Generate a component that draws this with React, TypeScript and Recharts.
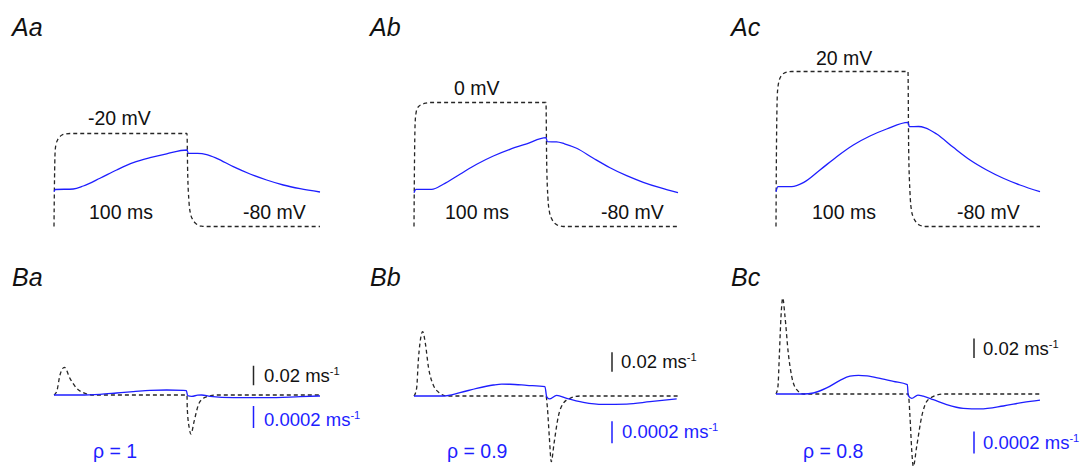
import React from 'react';
import { LineChart, Line, XAxis, YAxis, ReferenceLine } from 'recharts';

// ---------- Data (time in ms) ----------
const stepT = [0, 0.3, 0.7, 1, 1.5, 2.5, 4, 6, 9, 12, 100, 100.5, 101.5, 102.7, 104.3, 106.5, 108.5, 111, 113, 200];
const stepAa = [-80, -55, -35, -30, -27, -24.5, -22.5, -21, -20.3, -20, -20, -45, -64, -72, -75.5, -78, -79.2, -79.8, -80, -80];
const stepAb = [-80, -45, -18, -11, -7, -4, -2.2, -1.2, -0.4, 0, 0, -38, -62, -71, -75, -77.8, -79, -79.7, -80, -80];
const stepAc = [-80, -35, -5, 5, 10, 14.5, 17.3, 18.9, 19.8, 20, 20, -30, -58, -70, -74.5, -77.5, -79, -79.7, -80, -80];

const gateAaT = [0, 1, 14.5, 22, 34.6, 47.1, 59.6, 72.2, 84.7, 100, 101, 108, 114.8, 122.3, 134.8, 147.4, 159.9, 172.4, 185, 200];
const gateAa = [0.041, 0.069, 0.075, 0.1125, 0.209, 0.3125, 0.404, 0.466, 0.515, 0.5625, 0.52, 0.52, 0.505, 0.459, 0.354, 0.2625, 0.1875, 0.125, 0.079, 0.0375];
const gateAbT = [0, 1.5, 13.4, 22.2, 34.8, 47.5, 60.1, 72.7, 85.4, 100, 101, 108, 114, 123.2, 135.9, 148.5, 161.1, 173.7, 186.4, 200];
const gateAb = [0.029, 0.071, 0.071, 0.134, 0.259, 0.384, 0.4875, 0.571, 0.64, 0.716, 0.666, 0.664, 0.64, 0.584, 0.459, 0.341, 0.241, 0.159, 0.091, 0.029];
const gateAcT = [0, 1.5, 11.9, 20.7, 33.3, 46, 58.6, 71.2, 83.8, 100, 101, 108, 113, 121.7, 134.3, 147, 159.6, 172.2, 184.8, 200];
const gateAc = [0.041, 0.104, 0.104, 0.154, 0.3125, 0.479, 0.625, 0.7375, 0.825, 0.909, 0.854, 0.856, 0.84, 0.7625, 0.596, 0.4375, 0.3125, 0.209, 0.125, 0.041];

const rateBaT = [0, 2, 4.5, 7.8, 12, 17, 22, 29.5, 100, 100.2, 101.7, 103, 105.3, 108.5, 112.3, 117.3, 122.3, 200];
const rateBa = [0, 0.0034, 0.0205, 0.0284, 0.0171, 0.0069, 0.0024, 0, 0, -0.0136, -0.0341, -0.04, -0.0274, -0.0103, -0.0034, -0.001, 0, 0];
const rateBbT = [0, 2, 3.3, 4.5, 6.6, 8.6, 10.9, 14.6, 19.7, 24.7, 100, 101, 102.5, 104, 106.1, 109.3, 113.1, 118.2, 125.8, 200];
const rateBb = [0, 0.008, 0.0369, 0.054, 0.066, 0.054, 0.03, 0.0113, 0.0028, 0, 0, -0.011, -0.0417, -0.0674, -0.0485, -0.0212, -0.0075, -0.0024, 0, 0];
const rateBcT = [0, 1.5, 2.5, 3.8, 5.1, 6.8, 9.3, 11.9, 15.7, 20.7, 100.2, 101.5, 102.8, 104, 106.6, 110.4, 114.2, 119.2, 126.8, 200];
const rateBc = [0, 0.008, 0.0386, 0.0796, 0.0985, 0.0796, 0.042, 0.018, 0.0044, 0, 0, -0.023, -0.0571, -0.0743, -0.0537, -0.023, -0.0076, -0.0025, 0, 0];

const diffBaT = [0, 20, 34.6, 47.1, 59.6, 72.2, 84.7, 97.2, 99.5, 100.5, 103.5, 108, 111, 117.3, 134.8, 160, 185, 200];
const diffBa = [0, 0, 0.0000064, 0.000018, 0.00003, 0.0000427, 0.0000455, 0.0000427, 0.00004, -0.000006, -0.000012, -0.000002, 0, -0.000012, -0.000024, -0.000024, -0.000015, -0.000009];
const diffBbT = [0, 22.2, 34.8, 47.5, 60.1, 66.5, 72.7, 85.4, 99.2, 100.5, 102.5, 108.1, 115.7, 128.3, 143.4, 161.1, 178.8, 199];
const diffBb = [0, 0, 0.00003, 0.00007, 0.0001, 0.000108, 0.000107, 0.000097, 0.000085, -0.000006, -0.000027, 0.000006, -0.000021, -0.000057, -0.000076, -0.000073, -0.000052, -0.000027];
const diffBcT = [0, 20.7, 28.3, 38.4, 48.5, 56, 62.5, 69, 78.8, 88.9, 99.5, 100.2, 102.8, 107.5, 111.6, 119.2, 129.3, 141.9, 154.5, 172.2, 187.3, 200];
const diffBc = [0, 0, 0.000009, 0.000055, 0.000124, 0.000162, 0.00017, 0.000164, 0.000142, 0.000115, 0.000085, -0.000015, -0.00004, -0.00001, -0.00002, -0.000052, -0.000097, -0.000131, -0.000136, -0.000109, -0.000076, -0.000055];

// scale bars (drawn at t = barT)
const barT = 150;
const blackBars = [[0.01, 0.03], [0.025, 0.045], [0.037, 0.057]];
const blueBars = [[-0.0003, -0.0001], [-0.00043, -0.00023], [-0.00054, -0.00034]];

const stepLabels = ['-20 mV', '0 mV', '20 mV'];
const rhoLabels = ['ρ = 1', 'ρ = 0.9', 'ρ = 0.8'];
const topLetters = ['Aa', 'Ab', 'Ac'];
const bottomLetters = ['Ba', 'Bb', 'Bc'];

const pts = (ts: number[], vs: number[]) => ts.map((t, i) => ({ t, v: vs[i] }));

const BLUE = '#1e1eff';
const DARK = '#262626';
const M = 5;

type PanelProps = {
  left: number; top: number; width: number; height: number;
  kDomain: number[]; bDomain: number[];
  black: { t: number; v: number }[]; blue: { t: number; v: number }[];
  kBar?: number[]; bBar?: number[];
};

function Panel({ left, top, width, height, kDomain, bDomain, black, blue, kBar, bBar }: PanelProps) {
  return (
    <div style={{ position: 'absolute', left: left - M, top: top - M }}>
      <LineChart width={width + 2 * M} height={height + 2 * M} margin={{ top: M, right: M, bottom: M, left: M }}>
        <XAxis type="number" dataKey="t" domain={[0, 200]} hide />
        <YAxis yAxisId="k" type="number" domain={kDomain} hide />
        <YAxis yAxisId="b" type="number" domain={bDomain} hide />
        <Line yAxisId="k" data={black} dataKey="v" type="monotone" stroke={DARK} strokeWidth={1.3}
          strokeDasharray="4 3" dot={false} activeDot={false} isAnimationActive={false} />
        <Line yAxisId="b" data={blue} dataKey="v" type="monotone" stroke={BLUE} strokeWidth={1.3}
          dot={false} activeDot={false} isAnimationActive={false} />
        {kBar && (
          <ReferenceLine yAxisId="k" segment={[{ x: barT, y: kBar[0] }, { x: barT, y: kBar[1] }]}
            stroke={DARK} strokeWidth={1.5} />
        )}
        {bBar && (
          <ReferenceLine yAxisId="b" segment={[{ x: barT, y: bBar[0] }, { x: barT, y: bBar[1] }]}
            stroke={BLUE} strokeWidth={1.5} />
        )}
      </LineChart>
    </div>
  );
}

function T({ x, y, children, color = '#111', size = 19.5, italic = false }: any) {
  return (
    <div style={{
      position: 'absolute', left: x, top: y, transform: 'translateY(-50%)', whiteSpace: 'nowrap',
      fontSize: size, lineHeight: 1, color, fontStyle: italic ? 'italic' : 'normal',
    }}>{children}</div>
  );
}

const Sup = ({ children }: any) => (
  <span style={{ fontSize: '0.6em', position: 'relative', top: '-0.6em' }}>{children}</span>
);

const topKDomain = [-88.71, 40.32];
const topBDomain = [-0.5625, 1.9375];
const botKDomain = [-75 / 975, 115 / 975];
const botBDomain = [-75 / 110000, 115 / 110000];

export default function App() {
  const topX = [54, 414, 776];
  const topW = [266, 264, 264];
  const botTop = [280, 281, 279];
  const steps = [stepAa, stepAb, stepAc];
  const gates = [pts(gateAaT, gateAa), pts(gateAbT, gateAb), pts(gateAcT, gateAc)];
  const rates = [pts(rateBaT, rateBa), pts(rateBbT, rateBb), pts(rateBcT, rateBc)];
  const diffs = [pts(diffBaT, diffBa), pts(diffBbT, diffBb), pts(diffBcT, diffBc)];

  const stepLabelPos = [[88, 119], [454, 88.5], [816, 58.5]];
  const msX = [89, 445, 812];
  const mvX = [243, 601, 957];
  const letterX = [12, 370, 731];
  const kTextPos = [[264, 376], [621, 362], [983, 349]];
  const bTextPos = [[264, 420], [622, 432], [983, 443]];
  const rhoX = [93, 447, 803];

  return (
    <div style={{
      position: 'absolute', left: 0, top: 0, width: 1086, height: 469, background: '#fff', overflow: 'hidden',
      fontFamily: '"Liberation Sans", Arial, Helvetica, sans-serif',
    }}>
      {[0, 1, 2].map((i) => (
        <Panel key={'a' + i} left={topX[i]} top={40} width={topW[i]} height={200}
          kDomain={topKDomain} bDomain={topBDomain}
          black={pts(stepT, steps[i])} blue={gates[i]} />
      ))}
      {[0, 1, 2].map((i) => (
        <Panel key={'b' + i} left={topX[i]} top={botTop[i]} width={topW[i]} height={190}
          kDomain={botKDomain} bDomain={botBDomain}
          black={rates[i]} blue={diffs[i]} kBar={blackBars[i]} bBar={blueBars[i]} />
      ))}

      {[0, 1, 2].map((i) => (
        <React.Fragment key={'t' + i}>
          <T x={letterX[i]} y={27} size={25} italic>{topLetters[i]}</T>
          <T x={letterX[i]} y={277} size={25} italic>{bottomLetters[i]}</T>
          <T x={stepLabelPos[i][0]} y={stepLabelPos[i][1]}>{stepLabels[i]}</T>
          <T x={msX[i]} y={212.5}>100 ms</T>
          <T x={mvX[i]} y={212.5}>-80 mV</T>
          <T x={kTextPos[i][0]} y={kTextPos[i][1]} size={18.5}>0.02 ms<Sup>-1</Sup></T>
          <T x={bTextPos[i][0]} y={bTextPos[i][1]} size={18.5} color={BLUE}>0.0002 ms<Sup>-1</Sup></T>
          <T x={rhoX[i]} y={452} color={BLUE}>{rhoLabels[i]}</T>
        </React.Fragment>
      ))}
    </div>
  );
}
